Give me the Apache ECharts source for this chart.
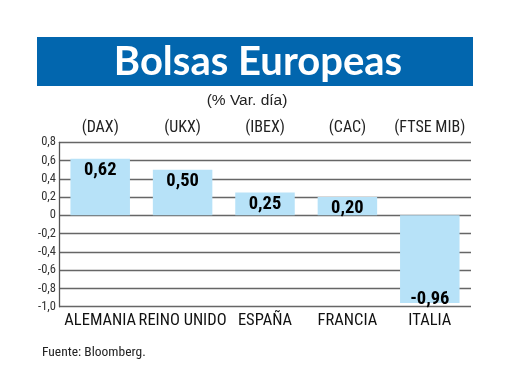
<!DOCTYPE html>
<html>
<head>
<meta charset="utf-8">
<script src="https://cdn.jsdelivr.net/npm/echarts@6/dist/echarts.min.js"></script>
<style>
html,body{margin:0;padding:0;background:#fff;}
#c{width:520px;height:390px;}
</style>
</head>
<body>
<div id="c"></div>
<script>
var countries = ['ALEMANIA', 'REINO UNIDO', 'ESPAÑA', 'FRANCIA', 'ITALIA'];
var indices = ['(DAX)', '(UKX)', '(IBEX)', '(CAC)', '(FTSE MIB)'];
var values = [0.62, 0.50, 0.25, 0.20, -0.96];
var yTicks = { min: -1.0, max: 0.8, interval: 0.2 };
var titleText = 'Bolsas Europeas';
var subtitleText = '(% Var. día)';
var sourceText = 'Fuente: Bloomberg.';

var narrow = "'Roboto Condensed', 'DejaVu Sans Condensed', sans-serif";
var chart = echarts.init(document.getElementById('c'), null, { renderer: 'canvas' });

var barData = values.map(function (v) {
  return {
    value: v,
    label: { position: v < 0 ? 'insideBottom' : 'insideTop', distance: v < 0 ? -6 : 2 }
  };
});

chart.setOption({
  backgroundColor: '#ffffff',
  animation: false,
  graphic: [
    { type: 'rect', shape: { x: 37, y: 37, width: 436, height: 49 }, style: { fill: '#0266ae' }, z: 0 },
    { type: 'text', x: 258, y: 62, style: { text: titleText, fill: '#ffffff', font: "bold 40px Lato, 'Open Sans', sans-serif", textAlign: 'center', textVerticalAlign: 'middle' }, z: 1 },
    { type: 'text', x: 247, y: 101, style: { text: subtitleText, fill: '#222', font: "15.5px 'Liberation Sans', Arial, sans-serif", textAlign: 'center', textVerticalAlign: 'middle' } },
    { type: 'text', x: 42, y: 353, style: { text: sourceText, fill: '#222', font: "13.5px " + narrow, textAlign: 'left', textVerticalAlign: 'middle' } }
  ],
  grid: { left: 59, right: 49, top: 142.3, bottom: 83.3, containLabel: false },
  xAxis: [
    {
      type: 'category', data: countries, position: 'bottom',
      axisLine: { show: false }, axisTick: { show: false },
      axisLabel: { interval: 0, color: '#111', fontFamily: narrow, fontSize: 16.5, margin: 6 }
    },
    {
      type: 'category', data: indices, position: 'top',
      axisLine: { show: false }, axisTick: { show: false },
      axisLabel: { interval: 0, color: '#222', fontFamily: narrow, fontSize: 16, margin: 6.5 }
    }
  ],
  yAxis: {
    type: 'value', min: yTicks.min, max: yTicks.max, interval: yTicks.interval,
    axisLine: { show: true, lineStyle: { color: '#555', width: 1.3 } },
    axisTick: { show: false },
    splitLine: { show: true, lineStyle: { color: '#666', width: 1.3 } },
    axisLabel: {
      color: '#333', fontFamily: narrow, fontSize: 12.5, margin: 3,
      formatter: function (v) {
        if (Math.abs(v) < 1e-9) return '0';
        return v.toFixed(1).replace('.', ',');
      }
    }
  },
  series: [{
    type: 'bar', data: barData, xAxisIndex: 0, barWidth: 59.5,
    itemStyle: { color: '#b7e2f8' },
    label: {
      show: true, color: '#000', fontFamily: narrow, fontWeight: 'bold', fontSize: 18.5,
      formatter: function (p) { return p.value.toFixed(2).replace('.', ','); }
    }
  }]
});
</script>
</body>
</html>
